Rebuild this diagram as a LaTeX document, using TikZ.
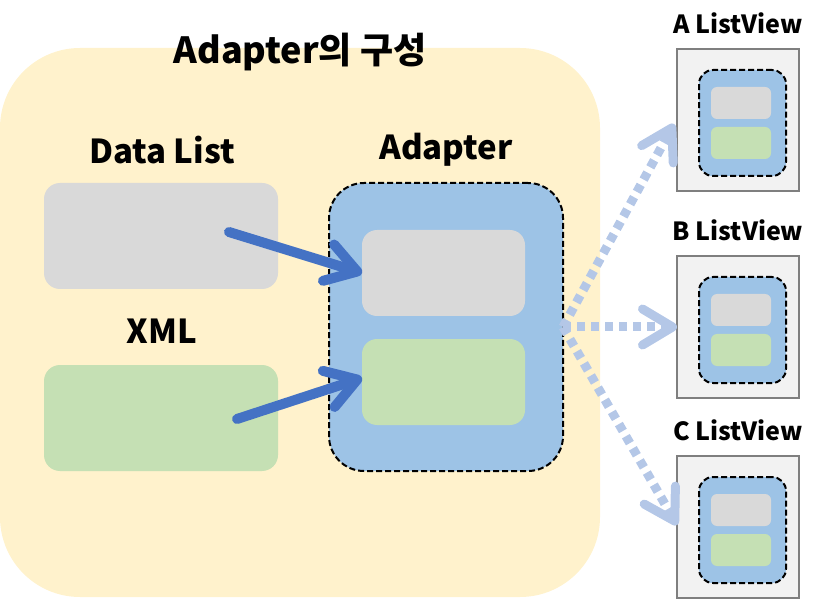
\documentclass[tikz,border=0pt]{standalone}
\usepackage{fontspec}
\setmainfont{Noto Sans CJK KR}
\usetikzlibrary{arrows.meta,calc}
\definecolor{bgyellow}{HTML}{FFF2CC}
\definecolor{cgray}{HTML}{D9D9D9}
\definecolor{cgreen}{HTML}{C5E0B4}
\definecolor{cblue}{HTML}{9DC3E6}
\definecolor{carrow}{HTML}{4472C4}
\definecolor{clight}{HTML}{B4C7E7}
\definecolor{lvfill}{HTML}{F2F2F2}
\definecolor{lvborder}{HTML}{7F7F7F}
\tikzset{
  blk/.style={inner sep=0pt, outer sep=0pt, anchor=north west},
  dashbord/.style={draw=black, line width=2pt, dash pattern=on 6pt off 3pt},
  titlelbl/.style={font=\fontsize{36}{40}\selectfont\bfseries, inner sep=0pt},
  lbl/.style={font=\fontsize{33}{38}\selectfont\bfseries, inner sep=0pt},
  smlbl/.style={font=\fontsize{25}{30}\selectfont\bfseries, inner sep=0pt},
  solidarrow/.style={draw=carrow, line width=10pt, line cap=round,
    -{Straight Barb[length=30pt, width=38pt, line width=10pt, round]}},
  dotarrow/.style={draw=clight, line width=9pt, dash pattern=on 8pt off 6pt,
    -{Straight Barb[length=30pt, width=36pt, line width=9pt, round]}},
}
\newcommand{\listview}[3]{%
  \node[blk, fill=lvfill, draw=lvborder, line width=2pt, minimum width=122pt, minimum height=142pt] (#1) at (677,#2) {};
  \node[blk, fill=cblue, dashbord, rounded corners=14pt, minimum width=87pt, minimum height=106pt] (#1in) at (699,#2+21) {};
  \node[blk, fill=cgray, rounded corners=6pt, minimum width=60pt, minimum height=32pt] (#1g) at (711,#2+38) {};
  \node[blk, fill=cgreen, rounded corners=6pt, minimum width=60pt, minimum height=32pt] (#1r) at (711,#2+78) {};
  \node[smlbl] (#1t) at (738,#2-26) {#3};
}
\begin{document}
\begin{tikzpicture}[x=1pt,y=-1pt]
\useasboundingbox (0,0) rectangle (838,612);
\node[blk, fill=bgyellow, rounded corners=80pt, minimum width=600pt, minimum height=549pt] (bg) at (0,48) {};
\node[titlelbl] (title) at (300,52) {Adapter의 구성};
\node[lbl] (dltxt) at (162,150) {Data List};
\node[lbl] (xmltxt) at (162,331) {XML};
\node[lbl] (adtxt) at (446,150) {Adapter};
\node[blk, fill=cgray, rounded corners=16pt, minimum width=234pt, minimum height=106pt] (dl) at (44,183) {};
\node[blk, fill=cgreen, rounded corners=16pt, minimum width=234pt, minimum height=106pt] (xml) at (44,365) {};
\node[blk, fill=cblue, dashbord, rounded corners=35pt, minimum width=234pt, minimum height=288pt] (ad) at (329,183) {};
\node[blk, fill=cgray, rounded corners=15pt, minimum width=163pt, minimum height=86pt] (adg) at (362,230) {};
\node[blk, fill=cgreen, rounded corners=15pt, minimum width=163pt, minimum height=86pt] (adr) at (362,339) {};
\listview{lvA}{49}{A ListView}
\listview{lvB}{256}{B ListView}
\listview{lvC}{456}{C ListView}
\coordinate (s1) at (229,232);
\coordinate (s2) at (237,419);
\coordinate (e2) at ($(adr.west)+(0,-4)$);
\draw[solidarrow] (s1) -- (adg.west);
\draw[solidarrow] (s2) -- (e2);
\coordinate (d0) at (ad.east);
\coordinate (eA) at ($(lvA.west)+(-3,4)$);
\coordinate (eC) at ($(lvC.west)+(0,-2)$);
\draw[dotarrow] (d0) -- (eA);
\draw[dotarrow] (d0) -- (lvB.west);
\draw[dotarrow] (d0) -- (eC);
\end{tikzpicture}
\end{document}
